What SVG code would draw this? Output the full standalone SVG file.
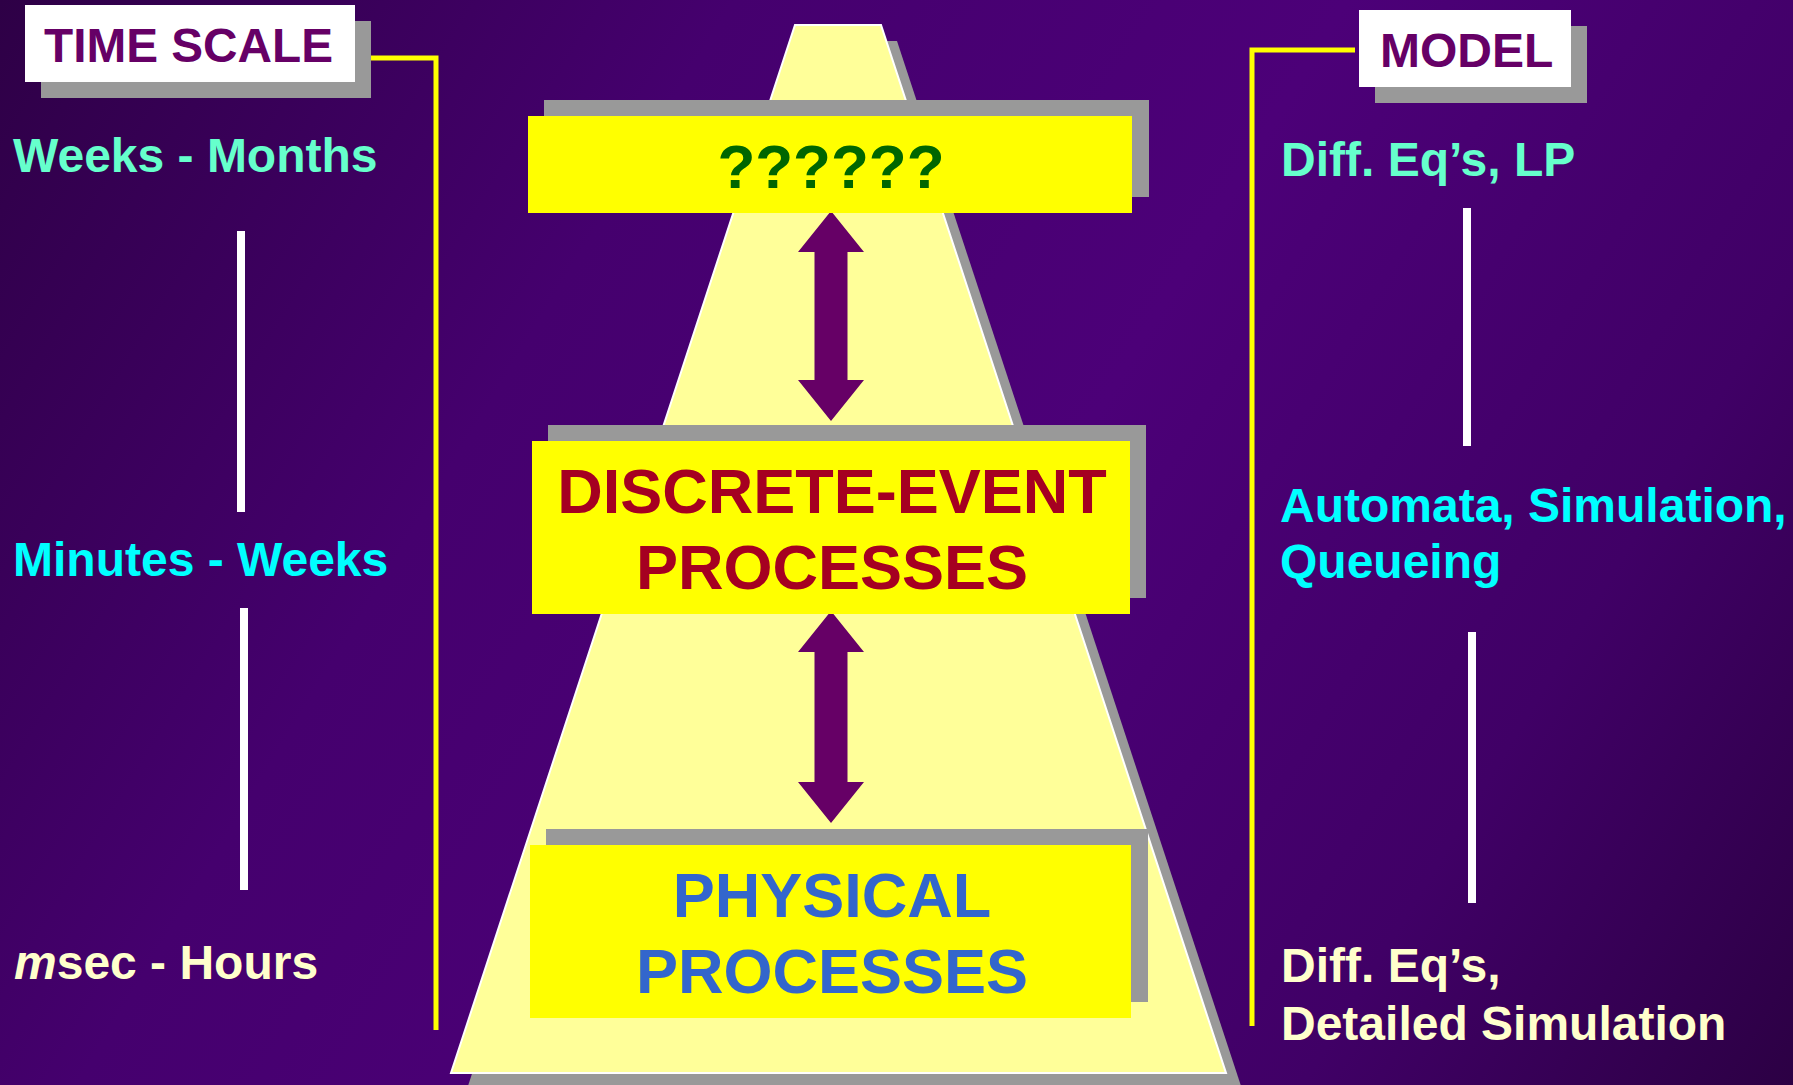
<svg xmlns="http://www.w3.org/2000/svg" width="1793" height="1085" viewBox="0 0 1793 1085">
<defs>
<linearGradient id="bg" x1="0" y1="0" x2="1793" y2="1085" gradientUnits="userSpaceOnUse">
<stop offset="0" stop-color="#2E0046"/>
<stop offset="0.3" stop-color="#45006E"/>
<stop offset="0.55" stop-color="#4C0078"/>
<stop offset="0.8" stop-color="#400066"/>
<stop offset="1" stop-color="#2C0044"/>
</linearGradient>
<style>
text{font-family:"Liberation Sans",Arial,sans-serif;font-weight:bold;}
.shadow{fill:#999999;}
.label{fill:#FFFFFF;}
.hdr{font-size:48px;fill:#660066;}
.side{font-size:48px;}
.mint{fill:#66FFCC;}
.cyan{fill:#00FFFF;}
.cream{fill:#FFFFCC;}
.box{fill:#FFFF00;}
.center{text-anchor:middle;}
.yl{fill:none;stroke:#FFFF00;stroke-width:5;}
.wl{stroke:#FFFFFF;stroke-width:8;}
.arrow{fill:#660066;}
</style>
</defs>
<rect x="0" y="0" width="1793" height="1085" fill="url(#bg)"/>

<g id="pyramid">
<polygon class="shadow" points="811,41 897,41 1242,1089 467,1089"/>
<polygon points="795,25 881,25 1226,1073 451,1073" fill="#FFFF99" stroke="#FFFFFF" stroke-width="2"/>
</g>

<g id="connectors">
<polyline class="yl" points="355,58 436,58 436,1030"/>
<polyline class="yl" points="1355,50 1252,50 1252,1026"/>
<line class="wl" x1="241" y1="231" x2="241" y2="512"/>
<line class="wl" x1="244" y1="608" x2="244" y2="890"/>
<line class="wl" x1="1467" y1="208" x2="1467" y2="446"/>
<line class="wl" x1="1472" y1="632" x2="1472" y2="903"/>
<polygon class="arrow" points="831,211 864,252 847.5,252 847.5,380 864,380 831,421 798,380 814.5,380 814.5,252 798,252"/>
<polygon class="arrow" points="831,611 864,652 847.5,652 847.5,782 864,782 831,823 798,782 814.5,782 814.5,652 798,652"/>
</g>

<g id="time-scale">
<rect class="shadow" x="41" y="21" width="330" height="77"/>
<rect class="label" x="25" y="5" width="330" height="77"/>
<text class="hdr" x="44" y="62" textLength="289" lengthAdjust="spacingAndGlyphs">TIME SCALE</text>
</g>

<g id="model">
<rect class="shadow" x="1375" y="26" width="212" height="77"/>
<rect class="label" x="1359" y="10" width="212" height="77"/>
<text class="hdr" x="1380" y="67">MODEL</text>
</g>

<g id="weeks-months"><text class="side mint" x="13" y="172">Weeks - Months</text></g>
<g id="minutes-weeks"><text class="side cyan" x="13" y="576">Minutes - Weeks</text></g>
<g id="msec-hours"><text class="side cream" x="14" y="979"><tspan font-style="italic">m</tspan>sec - Hours</text></g>

<g id="diff-lp"><text class="side mint" x="1281" y="176">Diff. Eq’s, LP</text></g>
<g id="automata"><text class="side cyan" x="1280" y="522">Automata, Simulation,<tspan x="1280" y="578">Queueing</tspan></text></g>
<g id="diff-detailed"><text class="side cream" x="1281" y="982">Diff. Eq’s,<tspan x="1281" y="1040">Detailed Simulation</tspan></text></g>

<g id="unknown">
<rect class="shadow" x="544" y="100" width="605" height="97"/>
<rect class="box" x="528" y="116" width="604" height="97"/>
<text class="center" x="831" y="188" font-size="62" fill="#006600">??????</text>
</g>

<g id="discrete-event">
<rect class="shadow" x="548" y="425" width="598" height="173"/>
<rect class="box" x="532" y="441" width="598" height="173"/>
<text class="center" x="832" y="513" font-size="63" fill="#A50021">DISCRETE-EVENT<tspan x="832" y="589">PROCESSES</tspan></text>
</g>

<g id="physical">
<rect class="shadow" x="546" y="829" width="602" height="173"/>
<rect class="box" x="530" y="845" width="601" height="173"/>
<text class="center" x="832" y="917" font-size="63" fill="#3366CC">PHYSICAL<tspan x="832" y="993">PROCESSES</tspan></text>
</g>
</svg>
